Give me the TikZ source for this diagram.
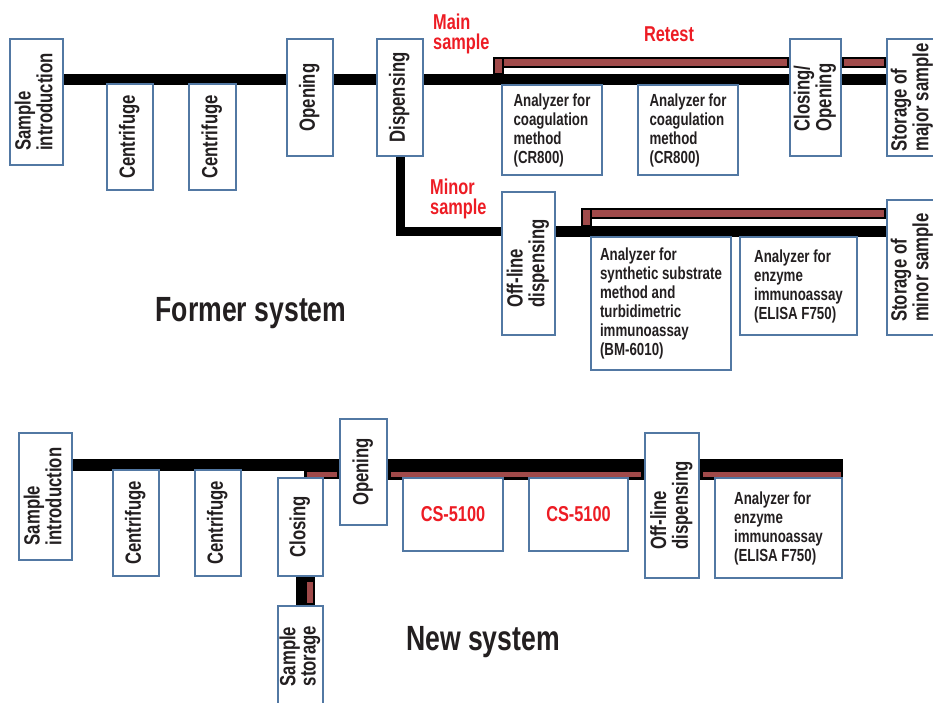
\documentclass[tikz,border=0pt]{standalone}
\usepackage{fontspec}
\setmainfont{Liberation Sans}[FakeStretch=0.76]
\usepackage{graphicx}
\usetikzlibrary{backgrounds}
\definecolor{boxblue}{RGB}{82,120,163}
\definecolor{barred}{RGB}{160,74,74}
\definecolor{labred}{RGB}{237,28,36}
\definecolor{txt}{RGB}{35,31,32}
\newcommand\fv{\fontsize{22}{20}\selectfont\bfseries}
\newcommand\fh{\fontsize{17.5}{19}\selectfont\bfseries}
\newcommand\fr{\fontsize{21.5}{20}\selectfont\bfseries}
\newcommand\ftitle{\fontsize{35}{38}\selectfont\bfseries}
\newcommand\vt[1]{\rotatebox{90}{\fv\begin{tabular}{@{}l@{}}#1\end{tabular}}}
\tikzset{
  box/.style={draw=boxblue, line width=2.6pt, fill=white, inner sep=0pt, text=txt},
  hbox/.style={box, align=left, font=\fh},
  bbar/.style={draw=black, line width=11pt},
  rbar/.style={draw=black, fill=barred, line width=2.5pt},
  redlab/.style={text=labred, font=\fr, inner sep=0pt},
  title/.style={text=txt, font=\ftitle, inner sep=0pt}
}
\begin{document}
\begin{tikzpicture}[x=1pt,y=-1pt]
\useasboundingbox (0,0) rectangle (933,702);
\clip (0,0) rectangle (933,702);
% ---------- Former system ----------
\node[box, minimum width=53pt, minimum height=126pt] (intro) at (36.5,102) {\vt{Sample\\introduction}};
\node[box, minimum width=46pt, minimum height=106pt] (cen1) at (130,137) {\vt{Centrifuge}};
\node[box, minimum width=47pt, minimum height=106pt] (cen2) at (212.5,137) {\vt{Centrifuge}};
\node[box, minimum width=46pt, minimum height=117pt] (open) at (310,97.5) {\vt{Opening}};
\node[box, minimum width=46pt, minimum height=117pt] (disp) at (400,97.5) {\vt{Dispensing}};
\node[hbox, minimum width=100pt, minimum height=90pt] (an1) at (552,130) {Analyzer for\\coagulation\\method\\(CR800)};
\node[hbox, minimum width=100pt, minimum height=90pt] (an2) at (688,130) {Analyzer for\\coagulation\\method\\(CR800)};
\node[box, minimum width=51pt, minimum height=117pt] (clop) at (815.5,97.5) {\vt{Closing/\\Opening}};
\node[box, minimum width=51pt, minimum height=117pt] (stmaj) at (912.5,97.5) {\vt{Storage of\\major sample}};
\node[box, minimum width=53pt, minimum height=143pt] (offd) at (528.5,263.5) {\vt{Off-line\\dispensing}};
\node[hbox, minimum width=140pt, minimum height=133pt] (bm) at (661,303.5) {Analyzer for\\synthetic substrate\\method and\\turbidimetric\\immunoassay\\(BM-6010)};
\node[hbox, minimum width=117pt, minimum height=98pt] (el1) at (798.5,286) {Analyzer for\\enzyme\\immunoassay\\(ELISA F750)};
\node[box, minimum width=51pt, minimum height=135pt] (stmin) at (912.5,267.5) {\vt{Storage of\\minor sample}};
\node[redlab, anchor=north west, align=left] (mainlab) at (433,14) {Main\\sample};
\node[redlab, anchor=base] (retest) at (669,41) {Retest};
\node[redlab, anchor=north west, align=left] (minorlab) at (430,179) {Minor\\sample};
\node[title, anchor=base] (former) at (251,321) {Former system};
% ---------- New system ----------
\node[box, minimum width=53pt, minimum height=127pt] (intro2) at (45.5,496.5) {\vt{Sample\\introduction}};
\node[box, minimum width=46pt, minimum height=106pt] (cen3) at (136,523) {\vt{Centrifuge}};
\node[box, minimum width=46pt, minimum height=106pt] (cen4) at (218,523) {\vt{Centrifuge}};
\node[box, minimum width=45pt, minimum height=98pt] (clos2) at (300.5,527) {\vt{Closing}};
\node[box, minimum width=47pt, minimum height=106pt] (open2) at (363.5,472) {\vt{Opening}};
\node[box, minimum width=100pt, minimum height=73pt, text=labred, font=\fr] (cs1) at (453,514.5) {CS-5100};
\node[box, minimum width=99pt, minimum height=73pt, text=labred, font=\fr] (cs2) at (578.5,514.5) {CS-5100};
\node[box, minimum width=54pt, minimum height=145pt] (off2) at (672,505.5) {\vt{Off-line\\dispensing}};
\node[hbox, minimum width=127pt, minimum height=100pt] (el2) at (778.5,528) {Analyzer for\\enzyme\\immunoassay\\(ELISA F750)};
\node[box, minimum width=45pt, minimum height=100pt] (stor) at (300.5,656) {\vt{Sample\\storage}};
\node[title, anchor=base] (newsys) at (483,650) {New system};
% ---------- connectors (behind boxes) ----------
\begin{pgfonlayer}{background}
\coordinate (M1) at (0,79.5);
\coordinate (M2) at (0,231.5);
\coordinate (RT) at (494.2,58.2);
\coordinate (RV) at (502.8,74);
\coordinate (RB) at (0,66.8);
\coordinate (mRT) at (582.2,209.2);
\coordinate (mRV) at (590.8,226);
\coordinate (mRB) at (0,217.8);
% retest bars (top)
\draw[rbar] (RT) rectangle (RV);
\draw[rbar] (RV |- RT) rectangle (clop.west |- RB);
\draw[rbar] (clop.east |- RT) rectangle (stmaj.west |- RB);
% retest bars (minor)
\draw[rbar] (mRT) rectangle (mRV);
\draw[rbar] (mRV |- mRT) rectangle (stmin.west |- mRB);
% main sample line
\draw[bbar] (intro.east |- M1) -- (open.west |- M1);
\draw[bbar] (open.east |- M1) -- (disp.west |- M1);
\draw[bbar] (disp.east |- M1) -- (clop.west |- M1);
\draw[bbar] (clop.east |- M1) -- (stmaj.west |- M1);
% minor sample line
\draw[bbar, line width=9pt, line join=miter] (disp.south) -- (disp.south |- M2) -- (offd.west |- M2);
\draw[bbar] (offd.east |- M2) -- (stmin.west |- M2);
% new system
\coordinate (N1) at (0,465);
\coordinate (N2) at (0,469.5);
\coordinate (N3) at (0,474.5);
\coordinate (stub) at (304,474.5);
\coordinate (sx) at (305.5,0);
\coordinate (sx2) at (310,0);
\draw[bbar, line width=12pt] (intro2.east |- N1) -- (open2.west |- N1);
\draw[draw=black, line width=9.5pt] (stub) -- (open2.west |- N3);
\draw[draw=barred, line width=5pt, shorten <=2.5pt, shorten >=1.5pt] (stub) -- (open2.west |- N3);
\draw[bbar, line width=21pt] (open2.east |- N2) -- (off2.west |- N2);
\draw[draw=barred, line width=5pt, shorten <=2.5pt, shorten >=2.5pt] (open2.east |- N3) -- (off2.west |- N3);
\draw[bbar, line width=21pt] (off2.east |- N2) -- (el2.east |- N2);
\draw[draw=barred, line width=5pt, shorten <=2.5pt, shorten >=2.5pt] (off2.east |- N3) -- (el2.east |- N3);
\draw[draw=black, line width=19pt] (sx |- clos2.south) -- (sx |- stor.north);
\draw[draw=barred, line width=6pt, shorten <=5pt, shorten >=2pt] (sx2 |- clos2.south) -- (sx2 |- stor.north);
\end{pgfonlayer}
\end{tikzpicture}
\end{document}
